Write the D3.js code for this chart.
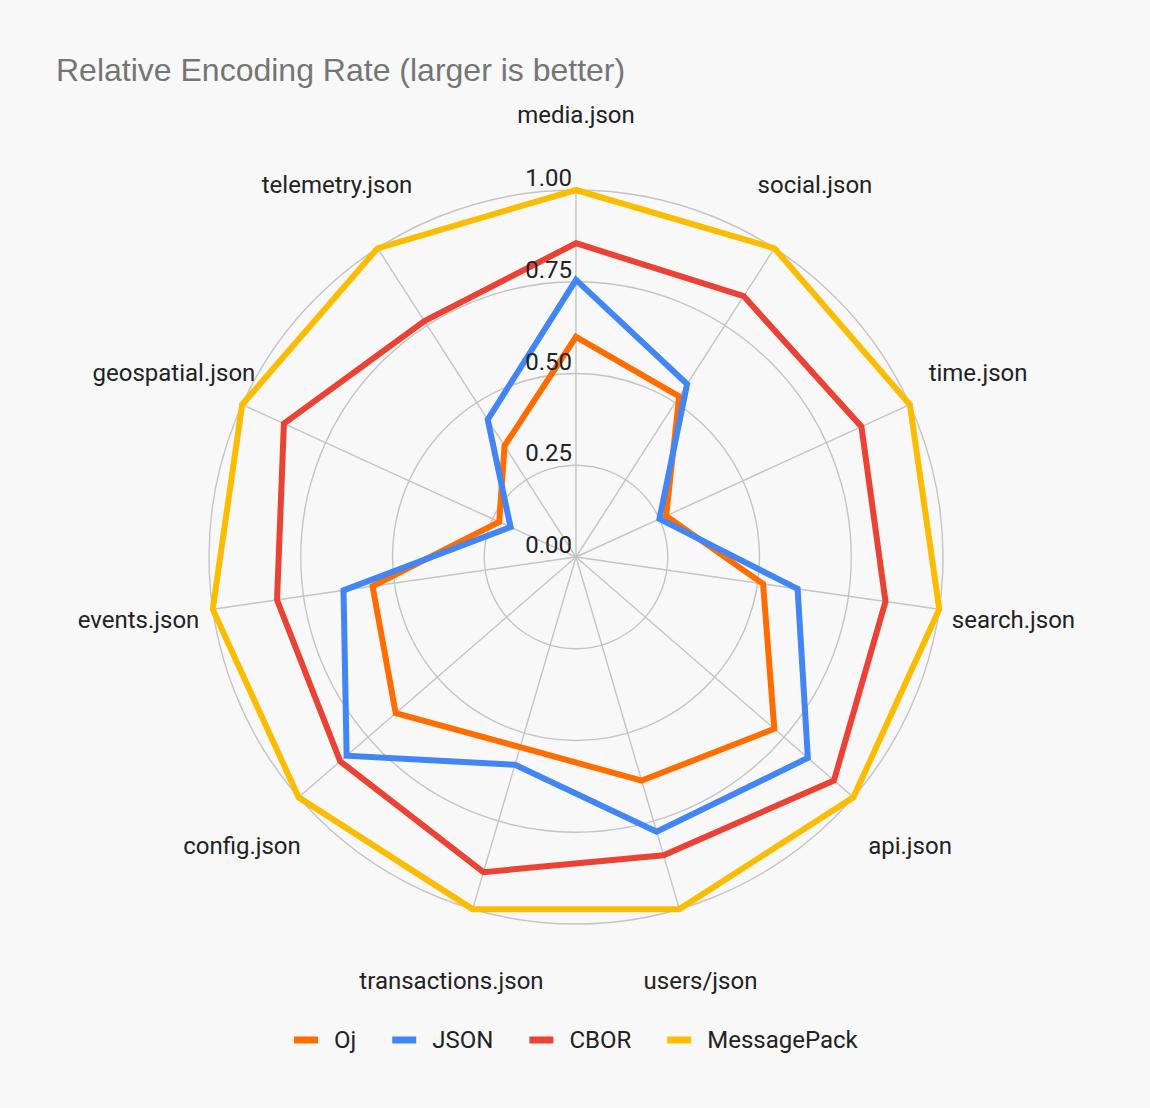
<!DOCTYPE html>
<html>
<head>
<meta charset="utf-8">
<script src="https://cdn.jsdelivr.net/npm/d3@7"></script>
<style>
  html, body { margin: 0; padding: 0; background: #f8f8f8; }
  svg { display: block; }
  text { font-family: Roboto, "Noto Sans", sans-serif; fill: #222; }
</style>
</head>
<body>
<div id="chart"></div>
<script>
// chart data
var categories = ['media.json', 'social.json', 'time.json', 'search.json', 'api.json', 'users/json',
    'transactions.json', 'config.json', 'events.json', 'geospatial.json', 'telemetry.json'];
var seriesNames = ['Oj', 'JSON', 'CBOR', 'MessagePack'];
var ojValues = [0.60, 0.52, 0.27, 0.515, 0.715, 0.635, 0.54, 0.65, 0.56, 0.23, 0.36];
var jsonValues = [0.755, 0.56, 0.25, 0.61, 0.836, 0.78, 0.59, 0.827, 0.64, 0.196, 0.445];
var cborValues = [0.855, 0.845, 0.855, 0.852, 0.93, 0.847, 0.895, 0.85, 0.823, 0.875, 0.764];
var msgpackValues = [1, 1, 1, 1, 1, 1, 1, 1, 1, 1, 1];
var tickValues = [0, 0.25, 0.5, 0.75, 1];
var colors = ['#ff6d01', '#4285f4', '#ea4335', '#fbbc04'];

var width = 1150;
var height = 1108;
var cx = 576;
var cy = 557;
var R = 367;
var LABEL_R = 442;
var FONT = '24px';

var series = [ojValues, jsonValues, cborValues, msgpackValues];

var svg = d3.select('#chart').append('svg')
    .attr('width', width)
    .attr('height', height);

svg.append('rect')
    .attr('width', width)
    .attr('height', height)
    .attr('fill', '#f8f8f8');

// Title
svg.append('text')
    .attr('x', 56)
    .attr('y', 81)
    .style('font-family', '"Liberation Sans", Arial, sans-serif')
    .style('font-size', '32px')
    .style('fill', '#757575')
    .text('Relative Encoding Rate (larger is better)');

var r = d3.scaleLinear().domain([0, 1]).range([0, R]);
var angle = d3.scalePoint().domain(d3.range(categories.length + 1))
    .range([0, 2 * Math.PI]);
var a = (i) => angle(i);

var g = svg.append('g').attr('transform', `translate(${cx},${cy})`);

// grid rings
g.selectAll('.ring')
    .data(tickValues.filter((d) => d > 0))
    .enter()
    .append('circle')
    .attr('r', (d) => r(d))
    .attr('fill', 'none')
    .attr('stroke', '#c4c4c4')
    .attr('stroke-width', 1.4);

// spokes
g.selectAll('.spoke')
    .data(categories)
    .enter()
    .append('line')
    .attr('x1', 0)
    .attr('y1', 0)
    .attr('x2', (d, i) => r(1) * Math.sin(a(i)))
    .attr('y2', (d, i) => -r(1) * Math.cos(a(i)))
    .attr('stroke', '#c4c4c4')
    .attr('stroke-width', 1.4);

// category labels
g.selectAll('.cat')
    .data(categories)
    .enter()
    .append('text')
    .attr('x', (d, i) => LABEL_R * Math.sin(a(i)))
    .attr('y', (d, i) => -LABEL_R * Math.cos(a(i)))
    .attr('text-anchor', 'middle')
    .attr('dominant-baseline', 'central')
    .style('font-size', FONT)
    .text((d) => d);

// series lines
var line = d3.lineRadial()
    .angle((d, i) => a(i))
    .radius((d) => r(d))
    .curve(d3.curveLinearClosed);

g.selectAll('.series')
    .data(series)
    .enter()
    .append('path')
    .attr('d', (d) => line(d))
    .attr('fill', 'none')
    .attr('stroke', (d, i) => colors[i])
    .attr('stroke-width', 6)
    .attr('stroke-linejoin', 'miter');

// tick labels, drawn above the lines
g.selectAll('.tick')
    .data(tickValues)
    .enter()
    .append('text')
    .attr('x', -4)
    .attr('y', (d) => -r(d) - 4)
    .attr('text-anchor', 'end')
    .style('font-size', FONT)
    .text((d) => d3.format('.2f')(d));

// legend
var legend = svg.append('g');
var x = 0;
seriesNames.forEach((name, i) => {
    var item = legend.append('g').attr('transform', `translate(${x},0)`);
    item.append('rect')
        .attr('x', 0)
        .attr('y', -3.5)
        .attr('width', 24)
        .attr('height', 7)
        .attr('fill', colors[i]);
    var t = item.append('text')
        .attr('x', 40)
        .attr('y', 0)
        .attr('dominant-baseline', 'central')
        .style('font-size', FONT)
        .text(name);
    x += 40 + t.node().getComputedTextLength() + 36;
});
var legendW = x - 36;
legend.attr('transform', `translate(${Math.round(cx - legendW / 2)},1040)`);
</script>
</body>
</html>
